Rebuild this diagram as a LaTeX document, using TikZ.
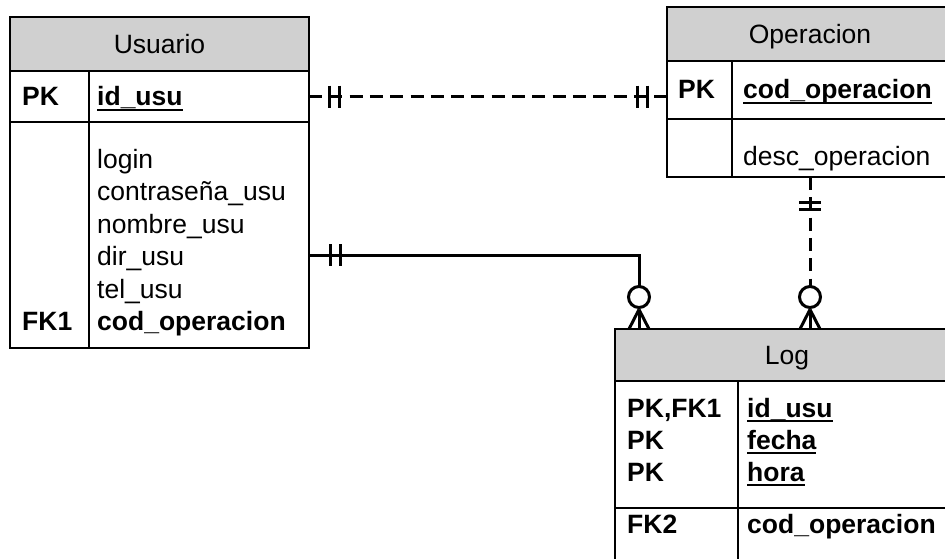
\documentclass[tikz,border=0pt]{standalone}
\usepackage{fontspec}
\setmainfont{Liberation Sans}
\usetikzlibrary{positioning}

\definecolor{hdrgray}{RGB}{208,208,208}
\newcommand{\tblfont}{\fontsize{26.5}{33}\selectfont}
% bold key attribute, underlined at the level of the underscore
\newcommand{\keyattr}[1]{\setbox0\hbox{\bfseries #1}\rlap{\rule[-0.2em]{\wd0}{0.075em}}\box0}

\begin{document}
\begin{tikzpicture}[
        x=1pt, y=-1pt,
        table_box/.style={draw, rectangle, line width=2pt, outer sep=0pt, inner sep=0pt, anchor=north west},
        hdr_box/.style={table_box, fill=hdrgray, font=\tblfont, text depth=0pt},
        attr_text/.style={inner sep=0pt, anchor=base west, font=\tblfont},
        key_text/.style={inner sep=0pt, anchor=base west, font=\tblfont\bfseries},
        rel_line/.style={line width=3pt},
        rel_dash/.style={rel_line, dash pattern=on 13pt off 7.3pt},
        opt_circle/.style={circle, draw, line width=3pt, minimum size=21pt, inner sep=0pt, outer sep=0pt}
    ]
        \useasboundingbox (0,0) rectangle (945,558);
        \clip (0,0) rectangle (945,558);

        % Usuario
        \node (usu_hdr) [hdr_box, minimum width=299pt, minimum height=54pt] at (10,17) {Usuario};
        \node (usu_pk) [table_box, minimum width=299pt, minimum height=51pt, below=0pt of usu_hdr] {};
        \node (usu_body) [table_box, minimum width=299pt, minimum height=226pt, below=0pt of usu_pk] {};
        \draw [line width=2pt] ([xshift=79pt]usu_pk.north west) -- ([xshift=79pt]usu_body.south west);
        \node (usu_pk_lbl) [key_text] at (22,105.5) {PK};
        \node (usu_pk_attr) [attr_text] at (97,105.5) {\keyattr{id\_usu}};
        \foreach \attr [count=\i from 0] in {login, contraseña\_usu, nombre\_usu, dir\_usu, tel\_usu}
            \node (usu_attr\i) [attr_text] at (97,{168+32.5*\i}) {\attr};
        \node (usu_fk_lbl) [key_text] at (22,330.5) {FK1};
        \node (usu_fk_attr) [key_text] at (97,330.5) {cod\_operacion};

        % Operacion
        \node (op_hdr) [hdr_box, minimum width=286pt, minimum height=54pt] at (667,7) {Operacion};
        \node (op_pk) [table_box, minimum width=286pt, minimum height=58pt, below=0pt of op_hdr] {};
        \node (op_body) [table_box, minimum width=286pt, minimum height=58pt, below=0pt of op_pk] {};
        \draw [line width=2pt] ([xshift=65pt]op_pk.north west) -- ([xshift=65pt]op_body.south west);
        \node (op_pk_lbl) [key_text] at (678,98.5) {PK};
        \node (op_pk_attr) [attr_text] at (743,98.5) {\keyattr{cod\_operacion}};
        \node (op_attr) [attr_text] at (743,165) {desc\_operacion};

        % Log
        \node (log_hdr) [hdr_box, minimum width=344pt, minimum height=52pt] at (615,329) {Log};
        \node (log_pk) [table_box, minimum width=344pt, minimum height=127pt, below=0pt of log_hdr] {};
        \node (log_body) [table_box, minimum width=344pt, minimum height=58pt, below=0pt of log_pk] {};
        \draw [line width=2pt] ([xshift=123pt]log_pk.north west) -- ([xshift=123pt]log_body.south west);
        \foreach \lbl/\attr [count=\i from 0] in {PK{,}FK1/id\_usu, PK/fecha, PK/hora} {
            \node (log_lbl\i) [key_text] at (627,{417+32*\i}) {\lbl};
            \node (log_attr\i) [attr_text] at (747,{417+32*\i}) {\keyattr{\attr}};
        }
        \node (log_fk_lbl) [key_text] at (627,533) {FK2};
        \node (log_fk_attr) [key_text] at (747,533) {cod\_operacion};

        % Usuario -- Operacion (one to one)
        \coordinate (op_pk_in) at (usu_pk.east -| op_pk.west);
        \draw [rel_dash] (usu_pk.east) -- (op_pk_in);
        \foreach \dx in {20.5,30}
            \draw [rel_line] ([xshift=\dx pt]usu_pk.east) ++(0,-11) -- ++(0,22);
        \foreach \dx in {-20,-30}
            \draw [rel_line] ([xshift=\dx pt]op_pk_in) ++(0,-11) -- ++(0,22);

        % Usuario -- Log (one to many)
        \coordinate (usu_dir) at (309,255);
        \node (log_opt1) [opt_circle] at (639,297) {};
        \draw [rel_line] (usu_dir) -| (log_opt1.north);
        \foreach \dx in {21,31}
            \draw [rel_line] ([xshift=\dx pt]usu_dir) ++(0,-11) -- ++(0,22);
        \foreach \dx in {-10,0,10}
            \draw [rel_line] ([yshift=-2pt]log_opt1.south) -- ([xshift=\dx pt]log_opt1.south |- log_hdr.north);

        % Operacion -- Log (one to many)
        \node (log_opt2) [opt_circle] at (op_body.south |- log_opt1) {};
        \draw [rel_dash] (op_body.south) -- (log_opt2.north);
        \foreach \dy in {25,32}
            \draw [rel_line] ([yshift=-\dy pt]op_body.south) ++(-11,0) -- ++(22,0);
        \foreach \dx in {-10,0,10}
            \draw [rel_line] ([yshift=-2pt]log_opt2.south) -- ([xshift=\dx pt]log_opt2.south |- log_hdr.north);
    \end{tikzpicture}
\end{document}
